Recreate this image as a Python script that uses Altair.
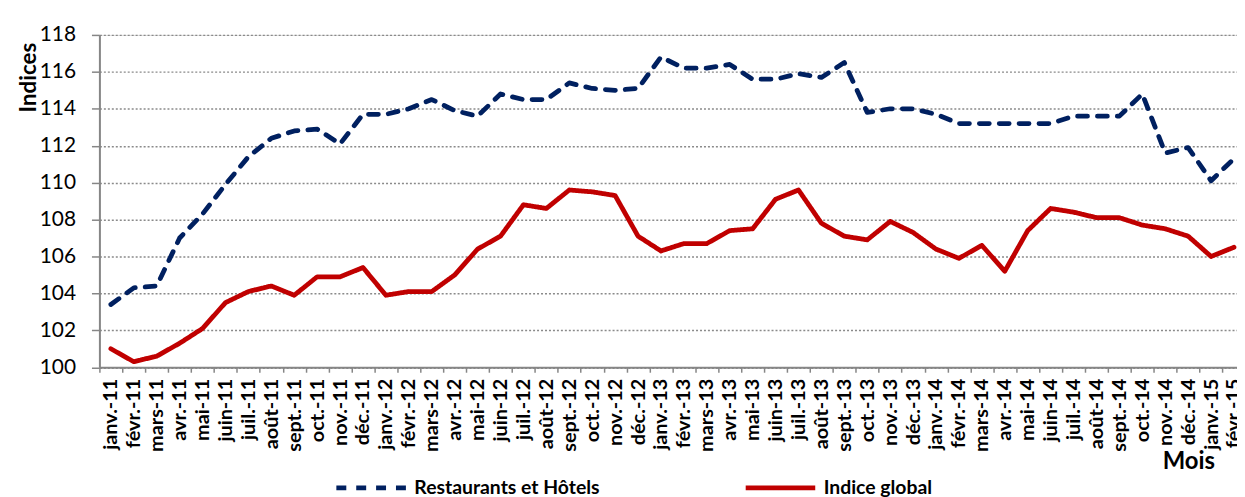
import altair as alt
import pandas as pd

mois = [
    "janv.-11", "févr.-11", "mars-11", "avr.-11", "mai-11", "juin-11", "juil.-11", "août-11", "sept.-11", "oct.-11", "nov.-11", "déc.-11",
    "janv.-12", "févr.-12", "mars-12", "avr.-12", "mai-12", "juin-12", "juil.-12", "août-12", "sept.-12", "oct.-12", "nov.-12", "déc.-12",
    "janv.-13", "févr.-13", "mars-13", "avr.-13", "mai-13", "juin-13", "juil.-13", "août-13", "sept.-13", "oct.-13", "nov.-13", "déc.-13",
    "janv.-14", "févr.-14", "mars-14", "avr.-14", "mai-14", "juin-14", "juil.-14", "août-14", "sept.-14", "oct.-14", "nov.-14", "déc.-14",
    "janv.-15", "févr.-15",
]

restaurants_hotels = [
    103.4, 104.3, 104.4, 107.0, 108.3, 109.9, 111.4, 112.4, 112.8, 112.9, 112.1, 113.7,
    113.7, 114.0, 114.5, 113.9, 113.6, 114.8, 114.5, 114.5, 115.4, 115.1, 115.0, 115.1,
    116.8, 116.2, 116.2, 116.4, 115.6, 115.6, 115.9, 115.7, 116.5, 113.8, 114.0, 114.0,
    113.7, 113.2, 113.2, 113.2, 113.2, 113.2, 113.6, 113.6, 113.6, 114.8, 111.6, 111.9,
    110.1, 111.3,
]

indice_global = [
    101.0, 100.3, 100.6, 101.3, 102.1, 103.5, 104.1, 104.4, 103.9, 104.9, 104.9, 105.4,
    103.9, 104.1, 104.1, 105.0, 106.4, 107.1, 108.8, 108.6, 109.6, 109.5, 109.3, 107.1,
    106.3, 106.7, 106.7, 107.4, 107.5, 109.1, 109.6, 107.8, 107.1, 106.9, 107.9, 107.3,
    106.4, 105.9, 106.6, 105.2, 107.4, 108.6, 108.4, 108.1, 108.1, 107.7, 107.5, 107.1,
    106.0, 106.5,
]

series_names = ["Restaurants et Hôtels", "Indice global"]
series_colors = ["#002060", "#C00000"]
series_dash = [[10, 10], [1, 0]]
y_ticks = [100, 102, 104, 106, 108, 110, 112, 114, 116, 118]

rows = []
for i, m in enumerate(mois):
    rows.append({"Mois": m, "Indice": restaurants_hotels[i], "Série": series_names[0], "ordre": 0})
    rows.append({"Mois": m, "Indice": indice_global[i], "Série": series_names[1], "ordre": 1})
df = pd.DataFrame(rows)

FONT = "Lato"
STEP = 23.07
N = len(mois)

chart = (
    alt.Chart(df)
    .mark_line(strokeWidth=4.8, strokeCap="round", strokeJoin="round")
    .encode(
        x=alt.X(
            "Mois:N",
            sort=mois,
            scale=alt.Scale(type="band", range=[0, STEP * N], paddingInner=0, paddingOuter=0),
            axis=alt.Axis(
                title="Mois",
                titleFont=FONT,
                titleFontSize=24,
                titleFontWeight="bold",
                titleColor="black",
                titleX=1096,
                titleY=102,
                titleAlign="center",
                titleBaseline="alphabetic",
                labelAngle=-90,
                labelFont=FONT,
                labelFontSize=20,
                labelFontWeight="bold",
                labelColor="black",
                labelPadding=6,
                labelOverlap=False,
                labelBound=False,
                tickBand="extent",
                tickSize=5,
                tickColor="#868686",
                tickWidth=1.5,
                domainColor="#868686",
                domainWidth=2,
                grid=False,
            ),
        ),
        y=alt.Y(
            "Indice:Q",
            scale=alt.Scale(domain=[100, 118], nice=False, zero=False),
            axis=alt.Axis(
                values=y_ticks,
                title="Indices",
                titleFont=FONT,
                titleFontSize=22.5,
                titleFontWeight="bold",
                titleColor="black",
                titleAngle=270,
                titleX=-71,
                titleY=42.5,
                titleAlign="center",
                titleBaseline="middle",
                labelFont=FONT,
                labelFontSize=21,
                labelColor="black",
                labelPadding=16,
                tickSize=8,
                tickColor="#868686",
                tickWidth=1.5,
                domainColor="#868686",
                domainWidth=2,
                grid=True,
                gridColor="#8a8a8a",
                gridDash=[2, 2],
                gridWidth=1.4,
            ),
        ),
        color=alt.Color(
            "Série:N",
            scale=alt.Scale(domain=series_names, range=series_colors),
            legend=alt.Legend(
                title=None,
                orient="none",
                direction="horizontal",
                legendX=236,
                legendY=418,
                symbolType="stroke",
                symbolSize=4900,
                symbolStrokeWidth=4.8,
                labelFont=FONT,
                labelFontSize=19.5,
                labelFontWeight="bold",
                labelColor="black",
                labelOffset=6,
                columnPadding=136,
                padding=0,
                labelLimit=400,
            ),
        ),
        strokeDash=alt.StrokeDash(
            "Série:N",
            scale=alt.Scale(domain=series_names, range=series_dash),
            legend=None,
        ),
        detail="Série:N",
        order="ordre:Q",
    )
    .properties(
        width=1145,
        height=334.5,
        autosize=alt.AutoSizeParams(type="none"),
        padding={"left": 92, "top": 25.5, "right": 0, "bottom": 129},
    )
    .configure_view(stroke=None)
    .configure(background="white")
)

chart.save("out.html", embed_options={"renderer": "svg", "actions": False})
